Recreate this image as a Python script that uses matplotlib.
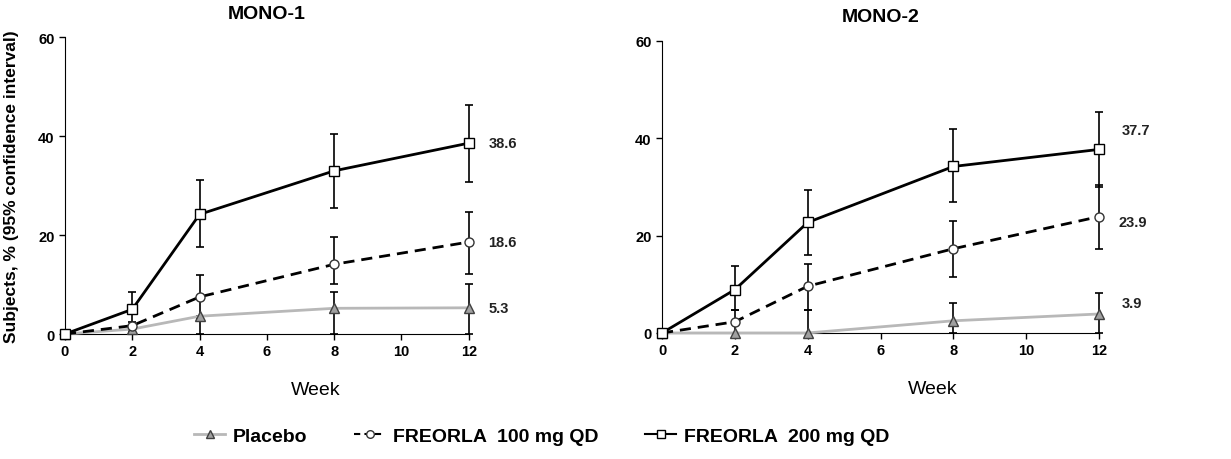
"""
Proportion of subjects responding over 12 weeks, MONO-1 and MONO-2 studies.
"""

import numpy as np
import matplotlib.pyplot as plt
from matplotlib.lines import Line2D

weeks = [0, 2, 4, 8, 12]

# MONO-1
m1_placebo = [0, 1.0, 3.6, 5.2, 5.3]
m1_placebo_lo = [0, 1.0, 3.6, 5.2, 5.3]
m1_placebo_hi = [0, 0.3, 0, 3.2, 4.9]
m1_100 = [0, 1.7, 7.5, 14.1, 18.6]
m1_100_lo = [0, 1.0, 4.4, 3.9, 6.5]
m1_100_hi = [0, 0.8, 4.4, 5.6, 6.0]
m1_200 = [0, 5.0, 24.2, 33.0, 38.6]
m1_200_lo = [0, 3.4, 6.7, 7.5, 7.9]
m1_200_hi = [0, 3.4, 7.0, 7.4, 7.7]

# MONO-2
m2_placebo = [0, 0, 0, 2.5, 3.9]
m2_placebo_lo = [0, 0, 0, 2.5, 3.9]
m2_placebo_hi = [0, 0, 4.8, 3.6, 4.3]
m2_100 = [0, 2.3, 9.6, 17.3, 23.9]
m2_100_lo = [0, 2.3, 4.8, 5.9, 6.6]
m2_100_hi = [0, 2.5, 4.6, 5.8, 6.4]
m2_200 = [0, 8.9, 22.7, 34.2, 37.7]
m2_200_lo = [0, 4.1, 6.7, 7.2, 7.8]
m2_200_hi = [0, 4.8, 6.7, 7.6, 7.6]

studies = ['MONO-1', 'MONO-2']
end_labels = [['5.3', '18.6', '38.6'], ['3.9', '23.9', '37.7']]
label_offsets = [[(14, 0), (14, 0), (14, 0)], [(16, 8), (14, -4), (16, 14)]]

PLACEBO_GREY = '#b8b8b8'

plt.rcParams['font.family'] = ['Liberation Sans', 'DejaVu Sans']

fig = plt.figure(figsize=(12.31, 4.6), dpi=100)
ax1 = fig.add_axes([0.0528, 0.2717, 0.328, 0.645])
ax2 = fig.add_axes([0.5378, 0.274, 0.355, 0.635])

data = [
  [(m1_placebo, m1_placebo_lo, m1_placebo_hi),
   (m1_100, m1_100_lo, m1_100_hi),
   (m1_200, m1_200_lo, m1_200_hi)],
  [(m2_placebo, m2_placebo_lo, m2_placebo_hi),
   (m2_100, m2_100_lo, m2_100_hi),
   (m2_200, m2_200_lo, m2_200_hi)],
]

styles = [
  dict(color=PLACEBO_GREY, linestyle='-', marker='^', mfc='#a0a0a0', mec='#404040', lw=2),
  dict(color='black', linestyle=(0, (4, 2.5)), marker='o', mfc='white', mec='#333333', lw=2),
  dict(color='black', linestyle='-', marker='s', mfc='white', mec='black', lw=2),
]

for ax, title, series, labels, offs in zip([ax1, ax2], studies, data,
                                           end_labels, label_offsets):
  for (vals, lo, hi), st in zip(series, styles):
    ax.errorbar(weeks, vals, yerr=[lo, hi], fmt='none', ecolor='black',
                elinewidth=1.2, capsize=3, capthick=1.2, clip_on=False, zorder=2)
    ax.plot(weeks, vals, color=st['color'], linestyle=st['linestyle'],
            lw=st['lw'], marker=st['marker'], markersize=6.5,
            markerfacecolor=st['mfc'], markeredgecolor=st['mec'],
            markeredgewidth=1, clip_on=False, zorder=3)
  for (vals, lo, hi), lab, off in zip(series, labels, offs):
    ax.annotate(lab, (weeks[-1], vals[-1]), xytext=off,
                textcoords='offset points', ha='left', va='center',
                fontsize=10.5, fontweight='bold', color='#222222')

  ax.set_xlim(0, 12)
  ax.set_ylim(0, 60)
  ax.set_xticks([0, 2, 4, 6, 8, 10, 12])
  ax.set_yticks([0, 20, 40, 60])
  ax.spines['top'].set_visible(False)
  ax.spines['right'].set_visible(False)
  ax.tick_params(labelsize=10.5, length=4, width=1)
  for lbl in ax.get_xticklabels() + ax.get_yticklabels():
    lbl.set_fontweight('bold')
  ax.set_title(title, fontsize=14, fontweight='bold', pad=14)
  ax.set_xlabel('Week', fontsize=14)
  ax.xaxis.set_label_coords(0.62, -0.16)

ax1.set_ylabel('Subjects, % (95% confidence interval)', fontsize=12.5,
               fontweight='bold')
ax1.yaxis.set_label_coords(-0.115, 0.5)

handles = [
  Line2D([], [], color=PLACEBO_GREY, lw=2, marker='^', markersize=5.5,
         markerfacecolor='#a0a0a0', markeredgecolor='#404040'),
  Line2D([], [], color='black', lw=1.5, linestyle=(0, (3, 2)), marker='o',
         markersize=5.5, markerfacecolor='white', markeredgecolor='#333333'),
  Line2D([], [], color='black', lw=1.5, marker='s', markersize=5.5,
         markerfacecolor='white', markeredgecolor='black'),
]
fig.legend(handles, ['Placebo', 'FREORLA  100 mg QD', 'FREORLA  200 mg QD'],
           loc='center', bbox_to_anchor=(0.44, 0.05), ncol=3, frameon=False,
           prop={'size': 14, 'weight': 'bold'}, handlelength=1.6,
           handletextpad=0.4, columnspacing=2.4)

plt.savefig('out.png', dpi=100)
